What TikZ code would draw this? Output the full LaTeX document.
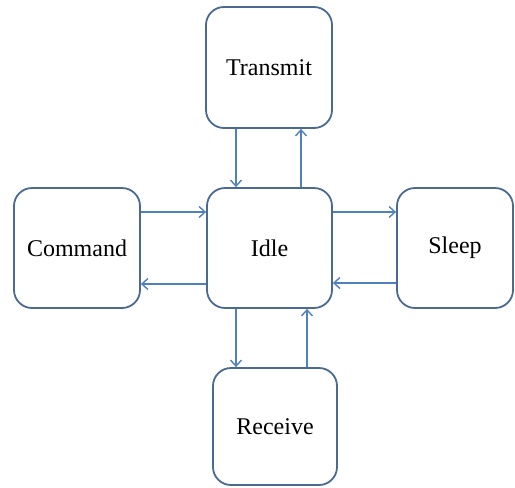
\documentclass[tikz,border=0pt]{standalone}
\usepackage{fontspec}
\setmainfont{Liberation Serif}
\usetikzlibrary{arrows.meta}
\definecolor{boxline}{HTML}{4A6A92}
\definecolor{arrline}{HTML}{4F81BD}
\begin{document}
\begin{tikzpicture}[x=1pt,y=-1pt,
  state/.style={draw=boxline, line width=1.8pt, rounded corners=18pt, fill=white,
    inner sep=0pt, font=\fontsize{24}{28}\selectfont, text=black},
  arr/.style={draw=arrline, line width=1.6pt, -{Straight Barb[length=6pt,width=11pt,line width=1.4pt]}}]
\useasboundingbox (0,0) rectangle (515,488);
\node[state, minimum width=126pt, minimum height=121pt] (tx) at (269,67.5) {Transmit};
\node[state, minimum width=125pt, minimum height=120pt] (idle) at (269.5,248) {Idle};
\node[state, minimum width=126pt, minimum height=120pt] (cmd) at (77,248) {Command};
\node[state, minimum width=116pt, minimum height=120pt] (slp) at (455,248) {Sleep};
\node[state, minimum width=124pt, minimum height=117pt] (rx) at (275,426.5) {Receive};
% vertical links
\draw[arr] (tx.south -| 236,0) -- (idle.north -| 236,0);
\draw[arr] (idle.north -| 301,0) -- (tx.south -| 301,0);
\draw[arr] (idle.south -| 236,0) -- (rx.north -| 236,0);
\draw[arr] (rx.north -| 307,0) -- (idle.south -| 307,0);
% horizontal links
\draw[arr] (cmd.east |- 0,212) -- (idle.west |- 0,212);
\draw[arr] (idle.west |- 0,284) -- (cmd.east |- 0,284);
\draw[arr] (idle.east |- 0,212) -- (slp.west |- 0,212);
\draw[arr] (slp.west |- 0,283) -- (idle.east |- 0,283);
\end{tikzpicture}
\end{document}
